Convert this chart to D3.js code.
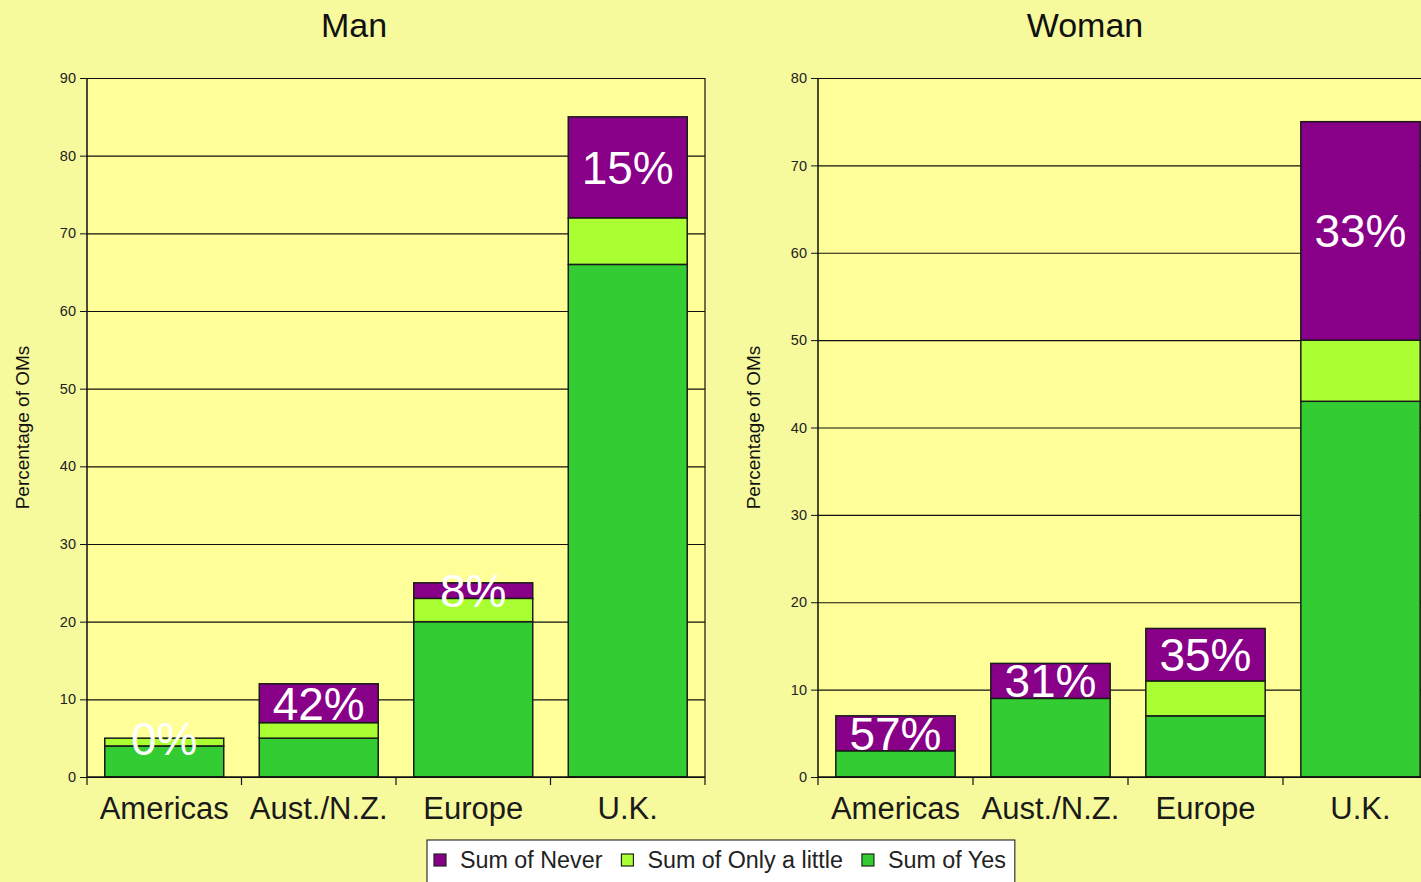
<!DOCTYPE html>
<html>
<head>
<meta charset="utf-8">
<script src="https://cdn.jsdelivr.net/npm/d3@7"></script>
<style>
  html, body { margin: 0; padding: 0; background: #f7fa9c; }
  svg { display: block; font-family: "Liberation Sans", Arial, Helvetica, sans-serif; }
</style>
</head>
<body>
<svg id="chart" width="1421" height="882"></svg>
<script>
// data
var regions      = ["Americas", "Aust./N.Z.", "Europe", "U.K."];
var manYes       = [4, 5, 20, 66];
var manLittle    = [1, 2, 3, 6];
var manNever     = [0, 5, 2, 13];
var womanYes     = [3, 9, 7, 43];
var womanLittle  = [0, 0, 4, 7];
var womanNever   = [4, 4, 6, 25];
var manTicks     = [0, 10, 20, 30, 40, 50, 60, 70, 80, 90];
var womanTicks   = [0, 10, 20, 30, 40, 50, 60, 70, 80];
var seriesNames  = ["Sum of Never", "Sum of Only a little", "Sum of Yes"];
var seriesColors = ["#880088", "#aaff33", "#33cc33"];

var svg = d3.select("#chart");

function panel(opt) {
	var	g	= svg.append("g"),
		x	= d3.scaleBand().domain(regions).range([opt.left, opt.right]).paddingInner(0.23).paddingOuter(0.115),
		y	= d3.scaleLinear().domain([0, d3.max(opt.ticks)]).range([777, 78]),
		rows	= regions.map(function(r, i) {
			return {region: r, yes: opt.yes[i], little: opt.little[i], never: opt.never[i]};
		}),
		stack	= d3.stack().keys(["yes", "little", "never"])(rows),
		colorOf	= {yes: seriesColors[2], little: seriesColors[1], never: seriesColors[0]};

	// plot background
	g.append("rect")
		.attr("x", opt.left).attr("y", y.range()[1])
		.attr("width", opt.right - opt.left).attr("height", y.range()[0] - y.range()[1])
		.attr("fill", "#ffff99");

	// gridlines + left axis
	var ya = g.append("g").attr("transform", "translate(" + opt.left + ",0)")
		.call(d3.axisLeft(y).tickValues(opt.ticks).tickSize(7).tickPadding(4));
	ya.select(".domain").remove();
	ya.selectAll(".tick text").attr("font-size", 14.5).attr("fill", "#222");
	ya.selectAll(".tick").append("line")
		.attr("x1", 0).attr("x2", opt.right - opt.left)
		.attr("stroke", "#111").attr("stroke-width", 1.2);
	ya.selectAll(".tick line").attr("stroke", "#111");
	g.append("line")
		.attr("x1", opt.left).attr("x2", opt.left).attr("y1", y.range()[1]).attr("y2", y.range()[0])
		.attr("stroke", "#111").attr("stroke-width", 1.5);
	g.append("line")
		.attr("x1", opt.right).attr("x2", opt.right).attr("y1", y.range()[1]).attr("y2", y.range()[0])
		.attr("stroke", "#111").attr("stroke-width", 1.2);

	// stacked bars
	stack.forEach(function(layer) {
		g.append("g").selectAll("rect").data(layer).enter().append("rect")
			.attr("x", function(d) { return x(d.data.region); })
			.attr("width", x.bandwidth())
			.attr("y", function(d) { return y(d[1]); })
			.attr("height", function(d) { return y(d[0]) - y(d[1]); })
			.attr("fill", colorOf[layer.key])
			.attr("stroke", "#1a1a1a").attr("stroke-width", 1.5);
	});

	// bottom axis with category boundary ticks
	var step = x.step(), y0 = y(0);
	g.append("line")
		.attr("x1", opt.left).attr("x2", opt.right).attr("y1", y0).attr("y2", y0)
		.attr("stroke", "#111").attr("stroke-width", 1.5);
	g.append("g").selectAll("line").data(d3.range(regions.length + 1)).enter().append("line")
		.attr("x1", function(i) { return opt.left + i * step; })
		.attr("x2", function(i) { return opt.left + i * step; })
		.attr("y1", y0).attr("y2", y0 + 8)
		.attr("stroke", "#111").attr("stroke-width", 1.2);
	g.append("g").selectAll("text").data(regions).enter().append("text")
		.attr("x", function(d) { return x(d) + x.bandwidth() / 2; })
		.attr("y", 819)
		.attr("text-anchor", "middle").attr("font-size", 31).attr("fill", "#1a1a1a")
		.text(function(d) { return d; });

	// percentage labels in the "never" segment
	g.append("g").selectAll("text").data(rows).enter().append("text")
		.attr("x", function(d) { return x(d.region) + x.bandwidth() / 2; })
		.attr("y", function(d) {
			var lo = d.yes + d.little, hi = lo + d.never;
			return (y(lo) + y(hi)) / 2;
		})
		.attr("dy", "0.36em")
		.attr("text-anchor", "middle").attr("font-size", 46).attr("fill", "#fff")
		.text(function(d) { return Math.round(100 * d.never / (d.yes + d.little + d.never)) + "%"; });

	// title and y label
	g.append("text")
		.attr("x", opt.titleX).attr("y", 37)
		.attr("text-anchor", "middle").attr("font-size", 34).attr("fill", "#111")
		.text(opt.title);
	g.append("text")
		.attr("transform", "translate(" + (opt.left - 58) + "," + ((y.range()[0] + y.range()[1]) / 2) + ") rotate(-90)")
		.attr("text-anchor", "middle").attr("font-size", 19).attr("fill", "#111")
		.text("Percentage of OMs");
}

panel({title: "Man", titleX: 354, left: 87, right: 705, ticks: manTicks,
	yes: manYes, little: manLittle, never: manNever});
panel({title: "Woman", titleX: 1085, left: 818, right: 1438, ticks: womanTicks,
	yes: womanYes, little: womanLittle, never: womanNever});

// legend
var legend = svg.append("g");
var box = legend.append("rect")
	.attr("y", 840).attr("height", 50)
	.attr("fill", "#fff").attr("stroke", "#333").attr("stroke-width", 1.2);
var lx = 434;
seriesNames.forEach(function(name, i) {
	legend.append("rect")
		.attr("x", lx).attr("y", 854).attr("width", 12).attr("height", 12)
		.attr("fill", seriesColors[i]).attr("stroke", "#222").attr("stroke-width", 1.2);
	var t = legend.append("text")
		.attr("x", lx + 26).attr("y", 868)
		.attr("font-size", 23.3).attr("fill", "#222")
		.text(name);
	lx += 26 + t.node().getComputedTextLength() + 19;
});
box.attr("x", 427).attr("width", lx - 19 + 9 - 427);
</script>
</body>
</html>
